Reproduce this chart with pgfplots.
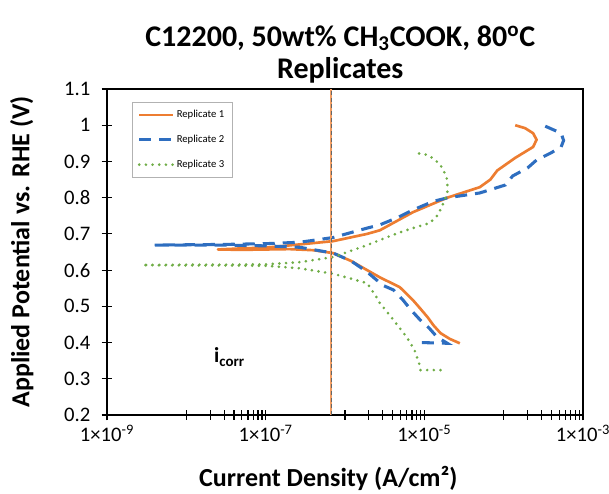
\documentclass[border=0pt]{standalone}
\usepackage{fontspec}
\setmainfont{Carlito}
\usepackage{pgfplots}
\pgfplotsset{compat=1.18}
\definecolor{c1}{RGB}{237,125,49}
\definecolor{c2}{RGB}{46,110,192}
\definecolor{c3}{RGB}{112,173,71}
\begin{document}
\begin{tikzpicture}
\begin{axis}[
  at={(80.25pt,58.5pt)}, anchor=south west,
  scale only axis, width=357pt, height=244.5pt,
  xmode=log, log basis x=10,
  xmin=1e-9, xmax=1e-3, ymin=0.2, ymax=1.1,
  xtick={1e-9,1e-7,1e-5,1e-3},
  xticklabels={1×10\textsuperscript{-9},1×10\textsuperscript{-7},1×10\textsuperscript{-5},1×10\textsuperscript{-3}},
  minor xtick={1e-8,2e-8,3e-8,4e-8,5e-8,6e-8,7e-8,8e-8,9e-8,1e-6,2e-6,3e-6,4e-6,5e-6,6e-6,7e-6,8e-6,9e-6,1e-4,2e-4,3e-4,4e-4,5e-4,6e-4,7e-4,8e-4,9e-4},
  ytick={0.2,0.3,0.4,0.5,0.6,0.7,0.8,0.9,1.0,1.1},
  yticklabels={0.2,0.3,0.4,0.5,0.6,0.7,0.8,0.9,1,1.1},
  tick align=center, major tick length=8pt, minor tick length=7pt,
  xtick pos=bottom, ytick pos=left,
  axis line style={line width=1.1pt},
  every tick/.style={black, line width=0.9pt},
  tick label style={font=\fontsize{15.5}{18}\selectfont},
  yticklabel style={xshift=-5pt},
  xlabel={Current Density (A/cm²)},
  xlabel style={font=\bfseries\fontsize{19.5}{22}\selectfont, at={(axis description cs:0.465,-0.195)}, anchor=center},
  ylabel={Applied Potential vs. RHE (V)},
  ylabel style={font=\bfseries\fontsize{19.5}{22}\selectfont, at={(axis description cs:-0.179,0.5)}, anchor=center},
  title={C12200, 50wt\% CH\textsubscript{3}COOK, 80\textsuperscript{o}C\\Replicates},
  title style={align=center, font=\bfseries\fontsize{22.5}{24}\selectfont, at={(axis description cs:0.49,1)}, anchor=south, yshift=-5pt},
  legend style={at={(0.0525,0.96)}, anchor=north west, draw=gray!60, line width=0.6pt,
    font=\fontsize{8}{9.5}\selectfont, row sep=7.5pt, inner sep=4pt, cells={anchor=west}},
  legend image code/.code={\draw[#1] (0pt,0pt) -- (25pt,0pt);},
]
\addplot[c1, line width=2pt, line join=round] coordinates {
(2.8e-5,0.398) (2.1e-5,0.41) (1.6e-5,0.426) (1.3e-5,0.448) (1.1e-5,0.47) (8.8e-6,0.495)
(7.2e-6,0.517) (4.9e-6,0.553) (2.75e-6,0.58) (1.9e-6,0.60) (1.2e-6,0.625) (7.1e-7,0.647)
(4e-7,0.655) (2e-7,0.658) (1e-7,0.657) (5e-8,0.656) (2.5e-8,0.657) (5e-8,0.660) (1e-7,0.662)
(2.7e-7,0.671) (7.1e-7,0.68) (1.9e-6,0.70) (2.75e-6,0.71) (7.2e-6,0.76) (1.95e-5,0.80)
(5e-5,0.829) (6.8e-5,0.85) (8.3e-5,0.875) (1.4e-4,0.91) (2.35e-4,0.94) (2.6e-4,0.96)
(2.35e-4,0.978) (1.86e-4,0.992) (1.4e-4,1.0)};
\addlegendentry{Replicate 1}
\addplot[c2, line width=2.3pt, dash pattern=on 9pt off 6pt] coordinates {
(9.3e-6,0.40) (1.95e-5,0.398) (1.45e-5,0.415) (1.15e-5,0.44) (8.9e-6,0.462) (6.8e-6,0.49)
(5.4e-6,0.517) (4.1e-6,0.545) (3e-6,0.558) (1.9e-6,0.595) (1.2e-6,0.625) (7.1e-7,0.647)
(2.7e-7,0.663) (1e-7,0.667) (3e-8,0.669) (1e-8,0.669) (4e-9,0.669) (1e-8,0.670) (3e-8,0.671)
(1e-7,0.673) (2.7e-7,0.677) (7.1e-7,0.69) (1.9e-6,0.716) (2.75e-6,0.725) (4.6e-6,0.745)
(7e-6,0.765) (1.3e-5,0.79) (2e-5,0.80) (5e-5,0.813) (1.05e-4,0.835) (1.3e-4,0.86)
(2e-4,0.882) (2.6e-4,0.904) (3.9e-4,0.923) (5.3e-4,0.94) (5.7e-4,0.958) (5.3e-4,0.978)
(3.3e-4,0.998)};
\addlegendentry{Replicate 2}
\addplot[c3, line width=2.2pt, line cap=round, dash pattern=on 0pt off 5pt] coordinates {
(1.6e-5,0.324) (8.9e-6,0.324) (8.6e-6,0.343) (7.5e-6,0.38) (6e-6,0.415) (4.1e-6,0.462)
(2.75e-6,0.509) (2.5e-6,0.525) (1.9e-6,0.564) (7.1e-7,0.59) (2.7e-7,0.605) (1e-7,0.612)
(3e-8,0.613) (1e-8,0.613) (2.8e-9,0.614) (1e-8,0.615) (3e-8,0.615) (1e-7,0.616)
(2.7e-7,0.622) (7.1e-7,0.636) (1.9e-6,0.669) (2.75e-6,0.683) (4.6e-6,0.702) (7.2e-6,0.716)
(1.17e-5,0.73) (1.48e-5,0.752) (1.74e-5,0.785) (1.95e-5,0.813) (1.95e-5,0.849)
(1.7e-5,0.882) (1.38e-5,0.904) (1.1e-5,0.918) (8.1e-6,0.923)};
\addlegendentry{Replicate 3}
\addplot[c1!75!white, line width=1.3pt, forget plot] coordinates {(6.7e-7,0.2) (6.7e-7,1.1)};
\addplot[gray!80!black, line width=0.5pt, dash pattern=on 3pt off 2pt, forget plot] coordinates {(6.7e-7,0.2) (6.7e-7,1.1)};
\node[font=\bfseries\fontsize{16}{18}\selectfont] at (axis cs:3.5e-8,0.36) {i\textsubscript{corr}};
\end{axis}
\pgfresetboundingbox
\path (0pt,0pt) rectangle (456.75pt,369.75pt);
\end{tikzpicture}
\end{document}
